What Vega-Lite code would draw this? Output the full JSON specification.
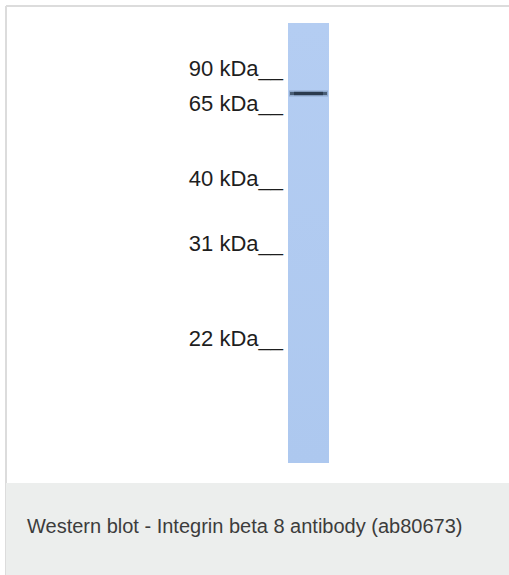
{
  "$schema": "https://vega.github.io/schema/vega-lite/v6.json",
  "width": 503,
  "height": 569,
  "autosize": {"type": "none"},
  "padding": {"left": 6, "top": 6, "right": 0, "bottom": 0},
  "background": "white",
  "config": {
    "view": {"stroke": "#dcdcdc", "strokeWidth": 2, "strokeDash": [503, 1072, 569, 0], "fill": "white"}
  },
  "datasets": {
    "markers": [
      {"lane": "ladder", "kDa": 90, "label": "90 kDa__", "migration": 52.7},
      {"lane": "ladder", "kDa": 65, "label": "65 kDa__", "migration": 87.5},
      {"lane": "ladder", "kDa": 40, "label": "40 kDa__", "migration": 163},
      {"lane": "ladder", "kDa": 31, "label": "31 kDa__", "migration": 227.5},
      {"lane": "ladder", "kDa": 22, "label": "22 kDa__", "migration": 323}
    ],
    "bands": [{"lane": "sample", "kDa": 78, "migration": 70.5}],
    "lanes": [{"lane": "sample"}],
    "caption": [{"text": "Western blot - Integrin beta 8 antibody (ab80673)"}]
  },
  "layer": [
    {
      "data": {"name": "caption"},
      "mark": {"type": "rect", "color": "#eceeed"},
      "encoding": {
        "y": {"datum": 460, "type": "quantitative", "axis": null, "scale": {"domain": [-17, 552], "reverse": true, "nice": false, "zero": false}},
        "y2": {"datum": 552}
      }
    },
    {
      "data": {"name": "lanes"},
      "mark": {"type": "bar", "color": {"gradient": "linear", "x1": 0, "y1": 0, "x2": 0, "y2": 1, "stops": [{"offset": 0, "color": "#b4cdf2"}, {"offset": 1, "color": "#adc8ef"}]}},
      "encoding": {
        "x": {"field": "lane", "type": "nominal", "axis": null, "scale": {"domain": ["ladder", "sample"], "range": [241, 323], "paddingInner": 0, "paddingOuter": 0}},
        "y": {"datum": 0, "type": "quantitative", "axis": null},
        "y2": {"datum": 440}
      }
    },
    {
      "data": {"name": "bands"},
      "mark": {"type": "tick", "color": "#6f89ad", "opacity": 0.5, "size": 39, "thickness": 6},
      "encoding": {
        "x": {"field": "lane", "type": "nominal", "axis": null},
        "y": {"field": "migration", "type": "quantitative", "axis": null}
      }
    },
    {
      "data": {"name": "bands"},
      "mark": {"type": "tick", "color": "#2b3c4f", "size": 37, "thickness": 2.8},
      "encoding": {
        "x": {"field": "lane", "type": "nominal", "axis": null},
        "y": {"field": "migration", "type": "quantitative", "axis": null}
      }
    },
    {
      "data": {"name": "bands"},
      "mark": {"type": "tick", "color": "#1f2d3d", "size": 29, "thickness": 3.4},
      "encoding": {
        "x": {"field": "lane", "type": "nominal", "axis": null},
        "y": {"field": "migration", "type": "quantitative", "axis": null}
      }
    },
    {
      "data": {"name": "markers"},
      "mark": {"type": "text", "align": "right", "baseline": "alphabetic", "dx": -5, "font": "Liberation Sans", "fontSize": 22, "color": "#1e1e1e"},
      "encoding": {
        "x": {"field": "lane", "type": "nominal", "bandPosition": 1, "axis": null},
        "y": {"field": "migration", "type": "quantitative", "axis": null},
        "text": {"field": "label"}
      }
    },
    {
      "data": {"name": "caption"},
      "mark": {"type": "text", "align": "left", "baseline": "alphabetic", "dx": -230.5, "font": "Liberation Sans", "fontSize": 20, "color": "#3c3c3c"},
      "encoding": {
        "y": {"datum": 510.3, "type": "quantitative", "axis": null},
        "text": {"field": "text"}
      }
    }
  ]
}
